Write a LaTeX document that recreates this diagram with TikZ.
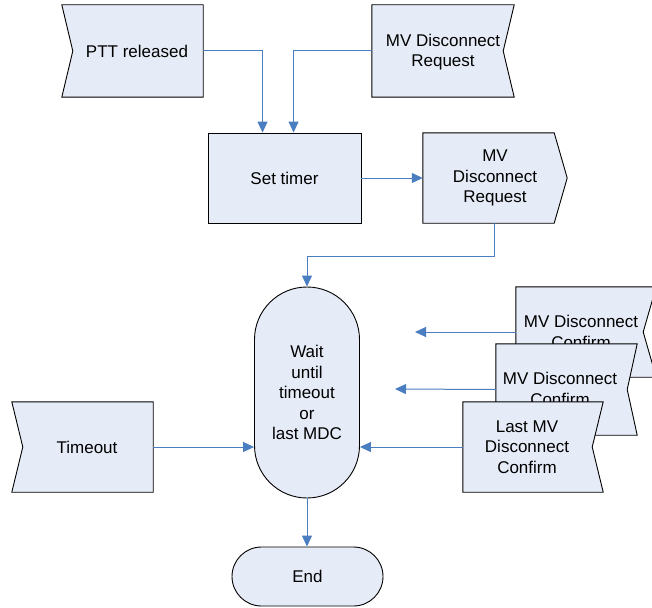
\documentclass[tikz,border=0pt]{standalone}
\usepackage{fontspec}
\setmainfont{Liberation Sans}
\usetikzlibrary{arrows.meta,calc}

\definecolor{boxfill}{HTML}{E6ECF7}
\definecolor{linkblue}{HTML}{4A7EC1}

\tikzset{
  frame/.style={rectangle, draw=none, inner sep=0pt},
  outline/.style={draw=black, line width=0.9pt, fill=boxfill, line join=miter},
  txt/.style={align=center, inner sep=0pt, font=\fontsize{17}{20.5}\selectfont},
  conn/.style={draw=linkblue, line width=1pt,
    -{Triangle[length=11pt,width=10pt]}},
}

\begin{document}
\begin{tikzpicture}[x=1pt,y=-1pt]
\useasboundingbox (0,0) rectangle (652,607);
\clip (0,0) rectangle (652,607);

% incoming signal: PTT released (notch on the left)
\node[frame, minimum width=141pt, minimum height=92pt] (ptt) at (132.5,51) {};
\path[outline] (ptt.north west) -- (ptt.north east) -- (ptt.south east)
  -- (ptt.south west) -- ($(ptt.west)+(11,0)$) -- cycle;
\node[txt] (ptttxt) at ($(ptt.center)+(4.5,0)$) {PTT released};

% incoming signal: MV Disconnect Request (notch on the right)
\node[frame, minimum width=142pt, minimum height=92pt] (mvreq) at (443,51) {};
\path[outline] (mvreq.north west) -- (mvreq.north east) -- ($(mvreq.east)+(-11,0)$)
  -- (mvreq.south east) -- (mvreq.south west) -- cycle;
\node[txt] (mvreqtxt) at ($(mvreq.center)+(0,1)$) {MV Disconnect\\Request};

% process: Set timer
\node[frame, outline, minimum width=153pt, minimum height=90pt] (set) at (284.5,178) {};
\node[txt] (settxt) at (set.center) {Set timer};

% outgoing signal: MV Disconnect Request (pointed right side)
\node[frame, minimum width=131pt, minimum height=90pt] (send) at (488.5,178) {};
\path[outline] (send.north west) -- (send.north east) -- ($(send.east)+(13,0)$)
  -- (send.south east) -- (send.south west) -- cycle;
\node[txt] (sendtxt) at ($(send.center)+(6.5,0)$) {MV\\Disconnect\\Request};

% wait state
\node[frame, outline, rounded corners=52.5pt, minimum width=105pt, minimum height=211pt]
  (wait) at (307,392.5) {};
\node[txt] (waittxt) at (wait.center) {Wait\\until\\timeout\\or\\last MDC};

% end terminal
\node[frame, outline, rounded corners=29.5pt, minimum width=151pt, minimum height=59pt]
  (endn) at (307.5,576.5) {};
\node[txt] (endtxt) at (endn.center) {End};

% incoming signal: Timeout
\node[frame, minimum width=141pt, minimum height=90pt] (timeout) at (82.5,447) {};
\path[outline] (timeout.north west) -- (timeout.north east) -- (timeout.south east)
  -- (timeout.south west) -- ($(timeout.west)+(11,0)$) -- cycle;
\node[txt] (timeouttxt) at ($(timeout.center)+(4.5,0)$) {Timeout};

% stacked incoming confirmations, back to front
\node[frame, minimum width=140pt, minimum height=90pt] (conf1) at (586,332) {};
\path[outline] (conf1.north west) -- (conf1.north east) -- ($(conf1.east)+(-13,0)$)
  -- (conf1.south east) -- (conf1.south west) -- cycle;
\node[txt] (conf1txt) at ($(conf1.center)+(-5,0)$) {MV Disconnect\\Confirm};

\node[frame, minimum width=141pt, minimum height=91pt] (conf2) at (566.5,389.5) {};
\path[outline] (conf2.north west) -- (conf2.north east) -- ($(conf2.east)+(-10,0)$)
  -- (conf2.south east) -- (conf2.south west) -- cycle;
\node[txt] (conf2txt) at ($(conf2.center)+(-6.5,-0.5)$) {MV Disconnect\\Confirm};

\node[frame, minimum width=140pt, minimum height=90pt] (last) at (533,447) {};
\path[outline] (last.north west) -- (last.north east) -- ($(last.east)+(-11,0)$)
  -- (last.south east) -- (last.south west) -- cycle;
\node[txt] (lasttxt) at ($(last.center)+(-6,0)$) {Last MV\\Disconnect\\Confirm};

% free ends of the confirmation arrows
\coordinate (conf1end) at (415,332);
\coordinate (conf2end) at (395,389);

% connectors
\draw[conn] (ptt.east) -| ($(set.north west)+(55,0)$);
\draw[conn] (mvreq.west) -| ($(set.north west)+(86,0)$);
\draw[conn] (set.east) -- (send.west);
\draw[conn] ($(send.south west)+(72,0)$) -- ++(0,33) -| (wait.north);
\draw[conn] (timeout.east) -- (timeout.east -| wait.west);
\draw[conn] (last.west) -- (last.west -| wait.east);
\draw[conn] (conf1.west) -- (conf1end);
\draw[conn] (conf2.west) -- (conf2end);
\draw[conn] (wait.south) -- (wait.south |- endn.north);
\end{tikzpicture}
\end{document}
